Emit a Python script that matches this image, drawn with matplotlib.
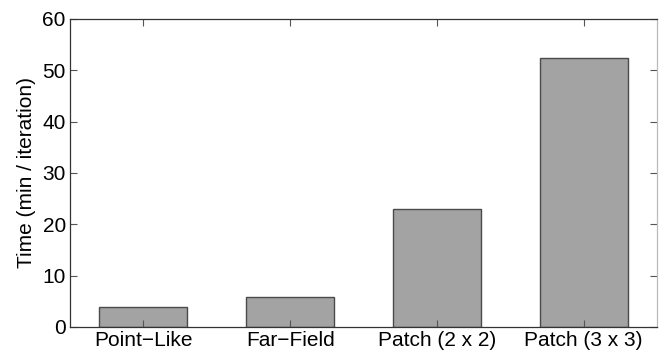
import numpy as np
import matplotlib.pyplot as plt

# data
categories = ['Point\u2212Like', 'Far\u2212Field', 'Patch (2 x 2)', 'Patch (3 x 3)']
times = [3.9, 5.8, 23.0, 52.5]
y_ticks = [0, 10, 20, 30, 40, 50, 60]

plt.rcParams['font.family'] = ['Liberation Sans', 'DejaVu Sans']

fig = plt.figure(figsize=(6.67, 3.56), dpi=100)
ax = fig.add_axes([70 / 667, 1 - 327 / 356, 587 / 667, 308 / 356])

x = np.arange(1, len(categories) + 1)
ax.bar(x, times, width=0.6, color='#a3a3a3', edgecolor='#4a4a4a', linewidth=1.0)

ax.set_xlim(0.5, 4.5)
ax.set_ylim(0, 60)
ax.set_xticks(x)
ax.set_xticklabels(categories, fontsize=15)
ax.set_yticks(y_ticks)
ax.set_yticklabels([str(v) for v in y_ticks], fontsize=15)
ax.set_ylabel('Time (min / iteration)', fontsize=15, labelpad=5)

ax.tick_params(direction='in', length=5, width=0.8, top=True, right=True,
               color='#555555', pad=3)
for side in ['left', 'bottom', 'top']:
    ax.spines[side].set_linewidth(0.9)
    ax.spines[side].set_color('#333333')
ax.spines['right'].set_color('#bbbbbb')
ax.spines['right'].set_linewidth(0.9)

fig.savefig('out.png', dpi=100)
